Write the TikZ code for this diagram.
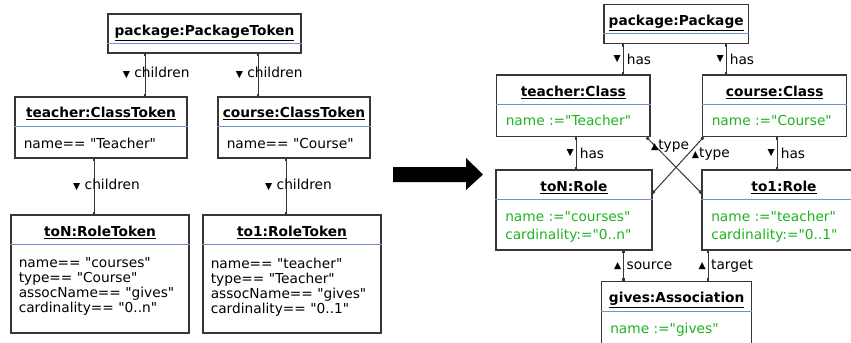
\documentclass[tikz,border=0pt]{standalone}
\usepackage{fontspec}
\setmainfont{DejaVu Sans}[Ligatures=TeXOff]
\usetikzlibrary{arrows.meta, fit}
\definecolor{boxgray}{RGB}{55,55,55}
\definecolor{sepblue}{RGB}{115,145,210}
\definecolor{setgreen}{RGB}{30,180,30}
\newcommand{\dnmark}{{\fontsize{7}{7}\selectfont ▼}}
\newcommand{\upmark}{{\fontsize{7}{7}\selectfont ▲}}
\tikzset{
  objbox/.style={draw=boxgray, line width=1pt, inner sep=0pt},
  objtitle/.style={font=\fontsize{10.3}{12}\selectfont\bfseries, inner sep=0pt, anchor=base},
  tokattr/.style={font=\fontsize{10.3}{11.2}\selectfont, align=left, anchor=north west, inner sep=0pt},
  setattr/.style={tokattr, text=setgreen, font=\fontsize{10.3}{13.7}\selectfont},
  sepline/.style={draw=sepblue, line width=0.75pt},
  link/.style={draw=boxgray, line width=0.75pt, {Square[length=2pt,width=2pt]}-{Square[length=2pt,width=2pt]}},
  lbl/.style={font=\fontsize{10.3}{12}\selectfont, inner sep=0pt},
  tri/.style={inner sep=1.2pt}
}
\begin{document}
\begin{tikzpicture}[x=0.75pt, y=-0.75pt]
  \useasboundingbox (0,0) rectangle (851,343);

  % token pattern (left)
  \node[objbox, fit={(108,14) (301,53)}] (pkgT) {};
  \node[objtitle] (pkgTt) at (pkgT.north |- 0,35) {\underline{package:PackageToken}};
  \draw[sepline] (pkgT.west |- 0,43) -- (pkgT.east |- 0,43);

  \node[objbox, fit={(15,97) (187,158)}] (teacherT) {};
  \node[objtitle] (teacherTt) at (teacherT.north |- 0,117.5) {\underline{teacher:ClassToken}};
  \draw[sepline] (teacherT.west |- 0,126) -- (teacherT.east |- 0,126);
  \node[tokattr] (teacherTa) at (23.5,138) {name== "Teacher"};

  \node[objbox, fit={(218,97) (370,158)}] (courseT) {};
  \node[objtitle] (courseTt) at (courseT.north |- 0,117.5) {\underline{course:ClassToken}};
  \draw[sepline] (courseT.west |- 0,126) -- (courseT.east |- 0,126);
  \node[tokattr] (courseTa) at (226.5,138) {name== "Course"};

  \node[objbox, fit={(11,215) (189,333)}] (toNT) {};
  \node[objtitle] (toNTt) at (toNT.north |- 0,236.5) {\underline{toN:RoleToken}};
  \draw[sepline] (toNT.west |- 0,244) -- (toNT.east |- 0,244);
  \node[tokattr] (toNTa) at (18.5,257.5) {name== "courses"\\type== "Course"\\assocName== "gives"\\cardinality== "0..n"};

  \node[objbox, fit={(203,215) (381,333)}] (to1T) {};
  \node[objtitle] (to1Tt) at (to1T.north |- 0,236.5) {\underline{to1:RoleToken}};
  \draw[sepline] (to1T.west |- 0,244) -- (to1T.east |- 0,244);
  \node[tokattr] (to1Ta) at (210.5,257.5) {name== "teacher"\\type== "Teacher"\\assocName== "gives"\\cardinality== "0..1"};

  \draw[link] (pkgT.south -| 145,0) -- (teacherT.north -| 145,0)
    node[midway, lbl, anchor=west, xshift=-17pt, yshift=1.5pt] {\dnmark\ children};
  \draw[link] (pkgT.south -| 258,0) -- (courseT.north -| 258,0)
    node[midway, lbl, anchor=west, xshift=-17pt, yshift=1.5pt] {\dnmark\ children};
  \draw[link] (teacherT.south -| 94,0) -- (toNT.north -| 94,0)
    node[midway, lbl, anchor=west, xshift=-16pt, yshift=1.5pt] {\dnmark\ children};
  \draw[link] (courseT.south -| 286,0) -- (to1T.north -| 286,0)
    node[midway, lbl, anchor=west, xshift=-16pt, yshift=1.5pt] {\dnmark\ children};

  % transformation arrow
  \fill[black] (393,167) -- (466,167) -- (466,158) -- (483,174.5) -- (466,190) -- (466,182) -- (393,182) -- cycle;

  % created objects (right)
  \node[objbox, fit={(604,4.7) (748.3,43.3)}] (pkg) {};
  \node[objtitle] (pkgt) at (pkg.north |- 0,25.5) {\underline{package:Package}};
  \draw[sepline] (pkg.west |- 0,33.3) -- (pkg.east |- 0,33.3);

  \node[objbox, fit={(496.7,75) (650,136.7)}] (teacherC) {};
  \node[objtitle] (teacherCt) at (teacherC.north |- 0,96) {\underline{teacher:Class}};
  \draw[sepline] (teacherC.west |- 0,104) -- (teacherC.east |- 0,104);
  \node[setattr] (teacherCa) at (505.5,115) {name :="Teacher"};

  \node[objbox, fit={(702.7,75) (846.7,136.7)}] (courseC) {};
  \node[objtitle] (courseCt) at (courseC.north |- 0,96) {\underline{course:Class}};
  \draw[sepline] (courseC.west |- 0,104) -- (courseC.east |- 0,104);
  \node[setattr] (courseCa) at (711.5,115) {name :="Course"};

  \node[objbox, fit={(496,170) (652,250)}] (toNR) {};
  \node[objtitle] (toNRt) at (toNR.north |- 0,191) {\underline{toN:Role}};
  \draw[sepline] (toNR.west |- 0,199) -- (toNR.east |- 0,199);
  \node[setattr] (toNRa) at (505,211) {name :="courses"\\cardinality:="0..n"};

  \node[objbox, fit={(702,170) (866,250)}] (to1R) {};
  \node[objtitle] (to1Rt) at (to1R.north |- 0,191) {\underline{to1:Role}};
  \draw[sepline] (to1R.west |- 0,199) -- (to1R.east |- 0,199);
  \node[setattr] (to1Ra) at (711,211) {name :="teacher"\\cardinality:="0..1"};

  \node[objbox, fit={(601.7,281.7) (751.7,360)}] (gives) {};
  \node[objtitle] (givest) at (gives.north |- 0,302) {\underline{gives:Association}};
  \draw[sepline] (gives.west |- 0,311) -- (gives.east |- 0,311);
  \node[setattr] (givesa) at (610,322.5) {name :="gives"};

  \draw[link] (pkg.south -| 623,0) -- (teacherC.north -| 623,0)
    node[midway, tri, left] {\dnmark} node[midway, lbl, right, inner sep=2.5pt] {has};
  \draw[link] (pkg.south -| 726,0) -- (courseC.north -| 726,0)
    node[midway, tri, left] {\dnmark} node[midway, lbl, right, inner sep=2.5pt] {has};
  \draw[link] (teacherC.south -| 576,0) -- (toNR.north -| 576,0)
    node[midway, tri, left] {\dnmark} node[midway, lbl, right, inner sep=2.5pt] {has};
  \draw[link] (courseC.south -| 777,0) -- (to1R.north -| 777,0)
    node[midway, tri, left] {\dnmark} node[midway, lbl, right, inner sep=2.5pt] {has};
  \draw[link] ([xshift=-3pt]teacherC.south east) -- (to1R.west |- 0,193)
    node[pos=0.16, lbl, anchor=west, xshift=-3.6pt] {\upmark type};
  \draw[link] ([xshift=1pt]courseC.south west) -- (toNR.east |- 0,193)
    node[pos=0.30, lbl, anchor=west, xshift=2.5pt] {\upmark type};
  \draw[link] (toNR.south -| 623.5,0) -- (gives.north -| 623.5,0)
    node[midway, tri, left] {\upmark} node[midway, lbl, right, inner sep=2pt] {source};
  \draw[link] (to1R.south -| 708,0) -- (gives.north -| 708,0)
    node[midway, tri, left] {\upmark} node[midway, lbl, right, inner sep=2pt] {target};
\end{tikzpicture}
\end{document}
